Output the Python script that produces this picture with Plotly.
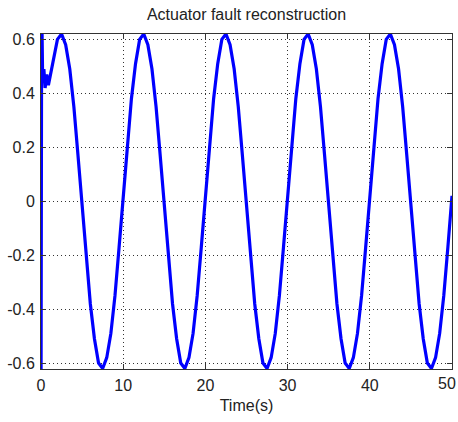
import plotly.graph_objects as go

# Time (s) of the initial transient samples
t_start = [0.0, 0.08, 0.2, 0.35, 0.5, 0.7, 0.9, 1.1]
f_start = [-0.80, 0.75, 0.45, 0.49, 0.42, 0.47, 0.43, 0.46]

# Read-off samples every 0.5 s from t = 1.5 s to t = 50 s
t_main = [1.5 + 0.5 * i for i in range(98)]
f_main = [
    0.51, 0.60, 0.62, 0.58, 0.49, 0.35, 0.17,
    -0.02, -0.21, -0.38, -0.51, -0.60, -0.62, -0.58, -0.49, -0.35, -0.17,
    0.02, 0.21, 0.38, 0.51, 0.60, 0.62, 0.58, 0.49, 0.35, 0.17,
    -0.02, -0.21, -0.38, -0.51, -0.60, -0.62, -0.58, -0.49, -0.35, -0.17,
    0.02, 0.21, 0.38, 0.51, 0.60, 0.62, 0.58, 0.49, 0.35, 0.17,
    -0.02, -0.21, -0.38, -0.51, -0.60, -0.62, -0.58, -0.49, -0.35, -0.17,
    0.02, 0.21, 0.38, 0.51, 0.60, 0.62, 0.58, 0.49, 0.35, 0.17,
    -0.02, -0.21, -0.38, -0.51, -0.60, -0.62, -0.58, -0.49, -0.35, -0.17,
    0.02, 0.21, 0.38, 0.51, 0.60, 0.62, 0.58, 0.49, 0.35, 0.17,
    -0.02, -0.21, -0.38, -0.51, -0.60, -0.62, -0.58, -0.49, -0.35, -0.17,
    0.02,
]

x_ticks = [0, 10, 20, 30, 40, 50]
x_labels = ["0", "10", "20", "30", "40", ""]   # "50" drawn as annotation so it is not cut
last_x_label = "50"
y_ticks = [-0.6, -0.4, -0.2, 0, 0.2, 0.4, 0.6]
y_labels = ["-0.6", "-0.4", "-0.2", "0", "0.2", "0.4", "0.6"]

t = t_start + t_main
f = f_start + f_main

fig = go.Figure()
fig.add_trace(go.Scatter(x=t, y=f, mode="lines", hoverinfo="skip",
                         line=dict(color="#0000ff", width=3.2)))

font = dict(family="Liberation Sans, Arial, sans-serif", size=16, color="#222222")
axis_common = dict(
    showline=True, linecolor="#333333", linewidth=1, mirror="ticks",
    ticks="inside", ticklen=5, tickcolor="#333333",
    showgrid=True, gridcolor="#333333", gridwidth=1, griddash="1px,3px",
    zeroline=False, tickfont=font, automargin=False,
)

W, H = 458, 422
L, R, T, B = 41, 6, 34, 53
plot_w = W - L - R

fig.update_layout(
    width=W, height=H,
    margin=dict(l=L, r=R, t=T, b=B, autoexpand=False),
    paper_bgcolor="white", plot_bgcolor="white",
    showlegend=False,
    title=dict(text="Actuator fault reconstruction", font=font,
               x=0.5, xref="paper", xanchor="center",
               y=1 - 14 / H, yref="container", yanchor="middle",
               automargin=False),
    xaxis=dict(range=[0, 50], tickvals=x_ticks, ticktext=x_labels,
               title=dict(text="Time(s)", font=font, standoff=6),
               ticklabelstandoff=2, **axis_common),
    yaxis=dict(range=[-0.622, 0.62], tickvals=y_ticks, ticktext=y_labels,
               ticklabelstandoff=2, **axis_common),
)
fig.add_annotation(text=last_x_label, font=font, showarrow=False,
                   xref="paper", yref="paper", x=1 + (R - 1) / plot_w, y=0,
                   xanchor="right", yanchor="middle", yshift=-14,
                   borderpad=0)

fig.write_html(
    "out.html",
    config={"displayModeBar": False},
    post_script="document.body.style.margin='0';document.body.style.overflow='hidden';",
)
